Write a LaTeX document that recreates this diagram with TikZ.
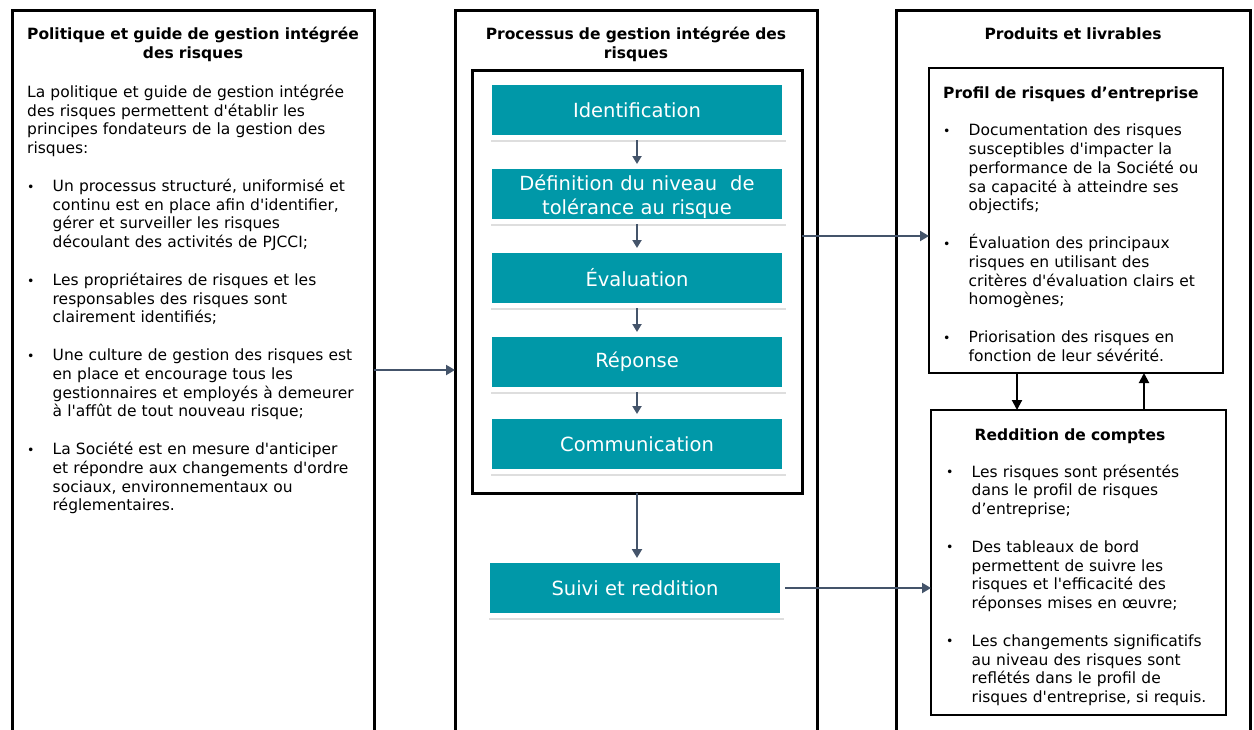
\documentclass[tikz,border=0pt]{standalone}
\usepackage{fontspec}
\setmainfont{DejaVu Sans}
\usetikzlibrary{arrows.meta,shadows}
\definecolor{tealbox}{RGB}{0,152,168}
\definecolor{slate}{RGB}{68,84,106}
\newcommand\bulx{\makebox[25.5pt][l]{\raisebox{0.3pt}{\fontsize{12.5}{12.5}\selectfont •}}}
\newcommand\indx{\hspace*{25.5pt}}
\newcommand\aq{\textquotesingle}
\begin{document}
\begin{tikzpicture}[x=1pt,y=-1pt,
 colbox/.style={draw=black,line width=3pt,inner sep=0pt,outer sep=0pt,anchor=north west,minimum height=760pt},
 hdr/.style={font=\fontsize{15.5}{19.5}\selectfont\bfseries,align=center,anchor=base,inner sep=0pt},
 body/.style={font=\fontsize{15.5}{18.8}\selectfont,align=left,anchor=base west,inner sep=0pt},
 procbox/.style={draw=black,line width=3pt,inner sep=0pt,outer sep=0pt,anchor=north west},
 outbox/.style={draw=black,line width=2pt,inner sep=0pt,outer sep=0pt,anchor=north west},
 stepbox/.style={fill=tealbox,draw=white,line width=5pt,minimum width=295pt,minimum height=55pt,
   inner sep=0pt,text=white,text width=290pt,font=\fontsize{19.5}{24}\selectfont,align=center,
   drop shadow={shadow xshift=1pt,shadow yshift=-4pt,opacity=0.13,fill=black}},
 sarrow/.style={draw=slate,line width=2pt,-{Triangle[width=10pt,length=9pt]}},
 smallarrow/.style={draw=slate,line width=2pt,-{Triangle[width=9pt,length=8pt]}},
 barrow/.style={draw=black,line width=2pt,-{Triangle[width=10pt,length=10pt]}}]
\useasboundingbox (0,0) rectangle (1254,729);
\fill[white] (0,0) rectangle (1254,729);
\begin{scope}
\clip (0,0) rectangle (1254,729);
\node[colbox,minimum width=362pt] (left) at (12,10) {};
\node[colbox,minimum width=362pt] (mid) at (455,10) {};
\node[colbox,minimum width=354pt] (right) at (896,10) {};
\end{scope}

% headers
\node[hdr,text width=355pt] (lhdr) at (193,39) {Politique et guide de gestion intégrée\\des risques};
\node[hdr,text width=355pt] (mhdr) at (636,39) {Processus de gestion intégrée des\\risques};
\node[hdr,text width=340pt] (rhdr) at (1073,39) {Produits et livrables};

% left body
\node[body,text width=345pt] (ltext) at (27,97.3) {La politique et guide de gestion intégrée\\
des risques permettent d\aq établir les\\
principes fondateurs de la gestion des\\
risques:\\[18.8pt]
\bulx Un processus structuré, uniformisé et\\
\indx continu est en place afin d\aq identifier,\\
\indx gérer et surveiller les risques\\
\indx découlant des activités de PJCCI;\\[18.8pt]
\bulx Les propriétaires de risques et les\\
\indx responsables des risques sont\\
\indx clairement identifiés;\\[18.8pt]
\bulx Une culture de gestion des risques est\\
\indx en place et encourage tous les\\
\indx gestionnaires et employés à demeurer\\
\indx à l\aq affût de tout nouveau risque;\\[18.8pt]
\bulx La Société est en mesure d\aq anticiper\\
\indx et répondre aux changements d\aq ordre\\
\indx sociaux, environnementaux ou\\
\indx réglementaires.};

% process
\node[procbox,minimum width=330pt,minimum height=423pt] (proc) at (472,70) {};
\node[stepbox] (s1) at (637,110) {Identification};
\node[stepbox] (s2) at (637,194) {\raisebox{0pt}[\dimexpr\height+6pt\relax][\depth]{\parbox{290pt}{\centering Définition du niveau~ de\\tolérance au risque}}};
\node[stepbox] (s3) at (637,278) {Évaluation};
\node[stepbox] (s4) at (637,362) {Réponse};
\node[stepbox] (s5) at (637,444) {Communication};
\node[stepbox] (s6) at (635,588) {Suivi et reddition};
\draw[smallarrow] (s1.south) -- (s2.north);
\draw[smallarrow] (s2.south) -- (s3.north);
\draw[smallarrow] (s3.south) -- (s4.north);
\draw[smallarrow] (s4.south) -- (s5.north);
\draw[sarrow] (proc.south) -- (proc.south |- s6.north);

% right column
\node[outbox,minimum width=294pt,minimum height=305pt] (profil) at (929,68) {};
\node[body,text width=278pt] (ptext) at (943,98) {\textbf{Profil de risques d’entreprise}\\[18.8pt]
\bulx Documentation des risques\\
\indx susceptibles d\aq impacter la\\
\indx performance de la Société ou\\
\indx sa capacité à atteindre ses\\
\indx objectifs;\\[18.8pt]
\bulx Évaluation des principaux\\
\indx risques en utilisant des\\
\indx critères d\aq évaluation clairs et\\
\indx homogènes;\\[18.8pt]
\bulx Priorisation des risques en\\
\indx fonction de leur sévérité.};

\node[outbox,minimum width=295pt,minimum height=305pt] (redd) at (931,410) {};
\node[hdr,text width=280pt] (rtitle) at (1070,440) {Reddition de comptes};
\node[body,text width=275pt] (rtext) at (946,477) {\bulx Les risques sont présentés\\
\indx dans le profil de risques\\
\indx d’entreprise;\\[18.8pt]
\bulx Des tableaux de bord\\
\indx permettent de suivre les\\
\indx risques et l\aq efficacité des\\
\indx réponses mises en œuvre;\\[18.8pt]
\bulx Les changements significatifs\\
\indx au niveau des risques sont\\
\indx reflétés dans le profil de\\
\indx risques d\aq entreprise, si requis.};

% connectors
\coordinate (yA) at (0,370);
\coordinate (yB) at (0,236);
\coordinate (xC) at (1017,0);
\coordinate (xD) at (1144,0);
\draw[sarrow] (left.east |- yA) -- (mid.west |- yA);
\draw[sarrow] (proc.east |- yB) -- (profil.west |- yB);
\draw[sarrow] (s6.east) -- (redd.west |- s6.east);
\draw[barrow] (profil.south -| xC) -- (redd.north -| xC);
\draw[barrow] (redd.north -| xD) -- (profil.south -| xD);
\end{tikzpicture}
\end{document}
